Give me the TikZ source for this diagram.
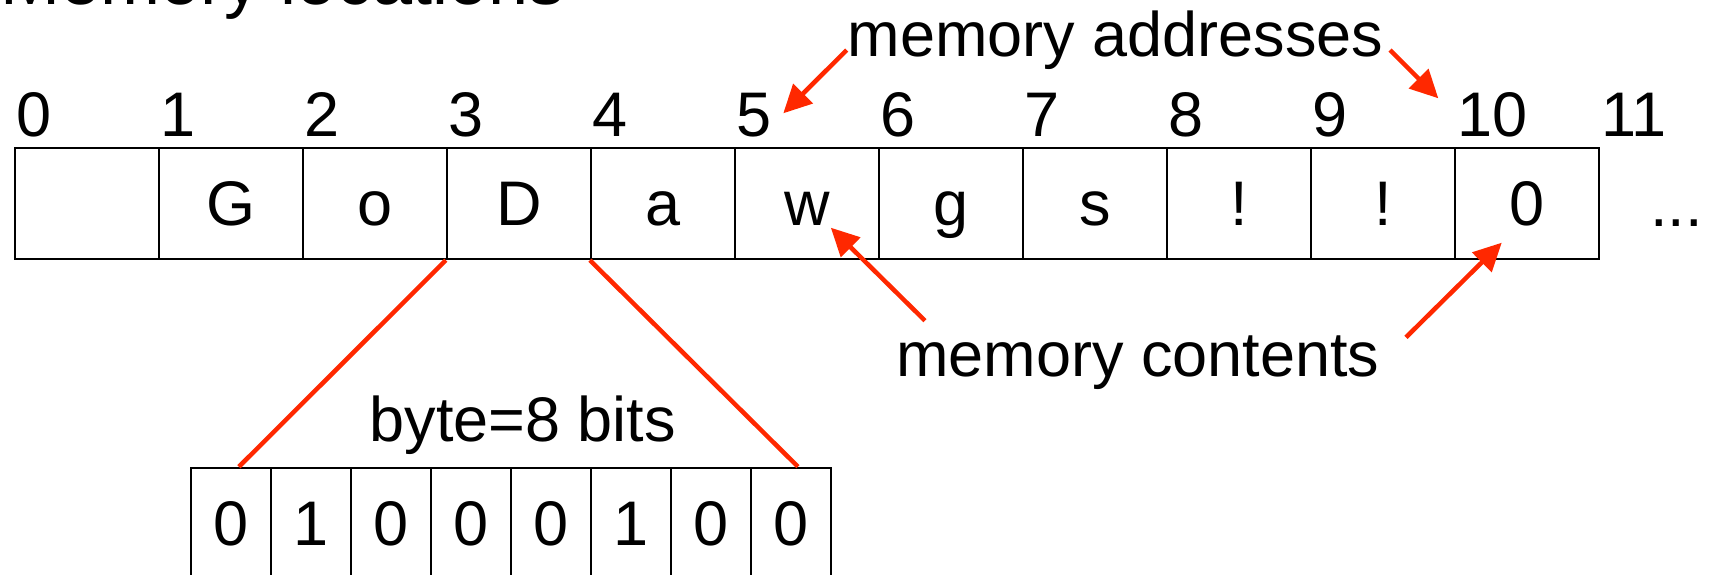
\documentclass[tikz,border=0pt]{standalone}
\usepackage{fontspec}
\setmainfont{Liberation Sans}
\usetikzlibrary{arrows.meta}
\definecolor{arrowred}{RGB}{255,40,0}
\begin{document}
\begin{tikzpicture}[x=1pt,y=-1pt,
  cell/.style={draw=black, line width=1.9pt, minimum width=144.05pt, minimum height=111.6pt,
    inner sep=0pt, anchor=north west, text height=45pt, text depth=0pt,
    font=\fontsize{63}{70}\selectfont},
  bitbox/.style={cell, minimum width=80pt},
  txt/.style={anchor=base west, inner sep=0pt, font=\fontsize{63}{70}\selectfont},
  redline/.style={draw=arrowred, line width=4.5pt},
  redarrow/.style={redline, -{Triangle[length=28pt,width=27pt]}}]
\useasboundingbox (0,0) rectangle (1714,574);
\clip (0,0) rectangle (1714,574);
% title (cut off at the top)
\node[txt, font=\fontsize{72}{80}\selectfont] (title) at (0,4) {Memory locations};
% memory cells
\foreach \t [count=\i from 0] in {{},G,o,D,a,w,g,s,!,!,0}
  \node[cell] (c\i) at ({13.7+144.05*\i},146.7) {\t};
% addresses
\foreach \i in {0,...,11}
  \node[txt] (a\i) at ({16.3+144.05*\i},136.5) {\i};
\node[txt] (dots) at (1650,226) {...};
% bits
\foreach \b [count=\i from 0] in {0,1,0,0,0,1,0,0}
  \node[bitbox] (b\i) at ({190+80*\i},466.7) {\b};
% labels
\node[txt] (ma) at (847.5,56.7) {memory addresses};
\node[txt] (mc) at (896,376.7) {memory contents};
\node[txt] (bb) at (369.4,441.7) {byte=8 bits};
% zoom lines
\draw[redline] (c3.south west) -- ([xshift=8pt]b0.north);
\draw[redline] (c4.south west) -- ([xshift=7pt]b7.north);
% arrows
\coordinate (ta1) at (846.7,50);
\coordinate (pa1) at (783.3,113.3);
\coordinate (ta2) at (1390,50);
\coordinate (pa2) at (1438.3,98.3);
\coordinate (tc1) at (925,320.7);
\coordinate (pc1) at (830.8,227.7);
\coordinate (tc2) at (1406,337.3);
\coordinate (pc2) at (1501.7,242.7);
\draw[redarrow] (ta1) -- (pa1);
\draw[redarrow] (ta2) -- (pa2);
\draw[redarrow] (tc1) -- (pc1);
\draw[redarrow] (tc2) -- (pc2);
\end{tikzpicture}
\end{document}
